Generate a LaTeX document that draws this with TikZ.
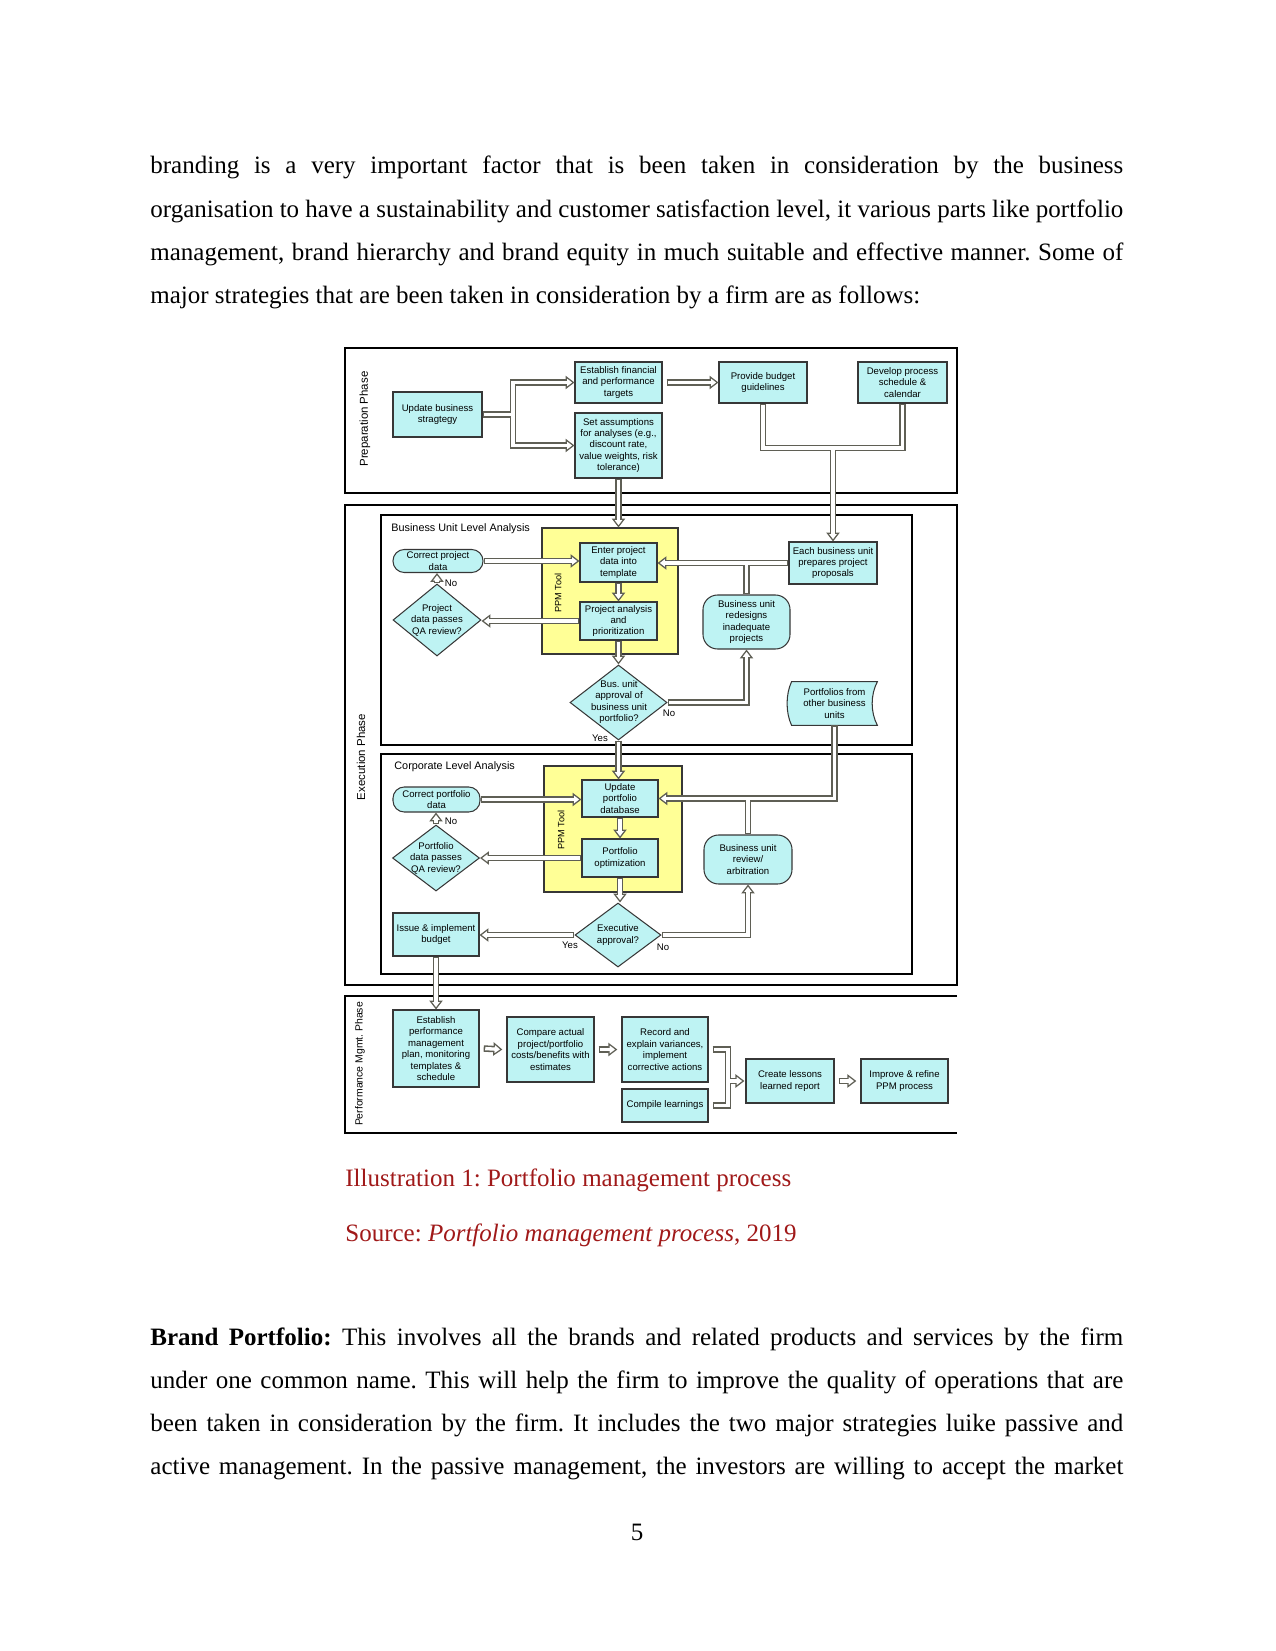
\documentclass[tikz,border=0pt]{standalone}
\usepackage{fontspec}
\setmainfont{Liberation Serif}
\newfontfamily\dfont{Liberation Sans}
\usetikzlibrary{arrows.meta,shapes.geometric,calc}
\pgfdeclarelayer{bg}\pgfdeclarelayer{pd}\pgfdeclarelayer{pw}
\pgfsetlayers{bg,main,pd,pw}
\frenchspacing
\definecolor{boxc}{RGB}{190,243,243}
\definecolor{yel}{RGB}{255,255,150}
\definecolor{pipec}{RGB}{95,95,85}
\definecolor{capc}{RGB}{160,25,25}
\definecolor{edge}{RGB}{55,55,55}
\tikzset{
 sz/.style 2 args={minimum width=#1*0.48pt, minimum height=#2*0.48pt},
 dfs/.style={font=\dfont\fontsize{4.6}{5.5}\selectfont},
 box/.style={dfs, draw=edge, line width=0.5pt, fill=boxc, inner sep=0.5pt, align=center},
 term/.style={box, rounded corners=5.4pt},
 oval/.style={box, rounded corners=7pt},
 dia/.style={diamond, draw=edge, line width=0.5pt, fill=boxc, inner sep=0pt},
 dtext/.style={dfs, align=center, inner sep=0pt},
 lab/.style={dfs, inner sep=0pt},
 phase/.style={font=\dfont\fontsize{5.5}{6.5}\selectfont, inner sep=0pt, rotate=90},
 ppm/.style={font=\dfont\fontsize{4.4}{5}\selectfont, inner sep=0pt, rotate=90},
 sec/.style={font=\dfont\fontsize{5.2}{6}\selectfont, inner sep=0pt, anchor=west},
 cont/.style={draw=black, line width=0.6pt},
 yelbox/.style={draw=edge, line width=0.5pt, fill=yel, inner sep=0pt},
 body/.style={font=\fontsize{12}{14}\selectfont, inner sep=0pt, anchor=base west},
 captxt/.style={font=\fontsize{12}{14}\selectfont, inner sep=0pt, anchor=base west, text=capc},
 pipedark/.style={draw=pipec, line width=3.1pt, line cap=butt, line join=miter,
   tipE/.style={-{Triangle[length=4.3pt,width=6.4pt,fill=white,line width=0.6pt]}},
   tipB/.style={{Triangle[length=4.3pt,width=6.4pt,fill=white,line width=0.6pt]}-{Triangle[length=4.3pt,width=6.4pt,fill=white,line width=0.6pt]}}},
 pipewhite/.style={draw=white, line width=1.6pt, line cap=butt, line join=miter,
   shorten <=0.75pt, shorten >=0.75pt,
   tipE/.style={shorten >=2.6pt},
   tipB/.style={shorten <=2.6pt, shorten >=2.6pt}}
}
\newcommand\pp[2][]{%
 \begin{pgfonlayer}{pd}\draw[pipedark,#1] #2;\end{pgfonlayer}%
 \begin{pgfonlayer}{pw}\draw[pipewhite,#1] #2;\end{pgfonlayer}}
\begin{document}
\begin{tikzpicture}[x=0.48pt,y=-0.48pt]
\useasboundingbox (0,0) rectangle (1275,1651);

% ---------- body text ----------
\node[body] (l1) at (150,174) {\makebox[467pt][s]{branding is a very important factor that is been taken in consideration by the business}};
\node[body] (l2) at (150,217.5) {\makebox[467pt][s]{organisation to have a sustainability and customer satisfaction level, it various parts like portfolio}};
\node[body] (l3) at (150,261) {\makebox[467pt][s]{management, brand hierarchy and brand equity in much suitable and effective manner. Some of}};
\node[body] (l4) at (150,304) {major strategies that are been taken in consideration by a firm are as follows:};

\node[captxt] (c1) at (345,1186) {Illustration 1: Portfolio management process};
\node[captxt] (c2) at (345,1241) {Source: \textit{Portfolio management process}, 2019};

\node[body] (m1) at (150,1345) {\makebox[467pt][s]{\textbf{Brand Portfolio:} This involves all the brands and related products and services by the firm}};
\node[body] (m2) at (150,1388) {\makebox[467pt][s]{under one common name. This will help the firm to improve the quality of operations that are}};
\node[body] (m3) at (150,1431.5) {\makebox[467pt][s]{been taken in consideration by the firm. It includes the two major strategies luike passive and}};
\node[body] (m4) at (150,1474.5) {\makebox[467pt][s]{active management. In the passive management, the investors are willing to accept the market}};

\node[font=\fontsize{12}{14}\selectfont, inner sep=0pt, anchor=base] (pg) at (637,1540) {5};

% ---------- containers ----------
\begin{pgfonlayer}{bg}
\draw[cont] (345,348) rectangle (957,493);
\draw[cont] (345,505) rectangle (957,985);
\draw[cont] (381,515) rectangle (912,745);
\draw[cont] (381,754) rectangle (912,974);
\draw[cont] (957,996) -- (345,996) -- (345,1133) -- (957,1133);
\node[yelbox, sz={136}{126}] (yel1) at (610,591) {};
\node[yelbox, sz={138}{126}] (yel2) at (613,829) {};
\end{pgfonlayer}

\node[phase] (ph1) at (365,419) {Preparation Phase};
\node[phase] (ph2) at (361,757) {Execution Phase};
\node[phase, font=\dfont\fontsize{5}{6}\selectfont] (ph3) at (360,1064) {Performance Mgmt. Phase};
\node[ppm] (pp1) at (558,593) {PPM Tool};
\node[ppm] (pp2) at (561,830) {PPM Tool};
\node[sec] (s1) at (391,529) {Business Unit Level Analysis};
\node[sec] (s2) at (394,767) {Corporate Level Analysis};

% ---------- preparation ----------
\node[box, sz={89}{45}] (upd) at (437.5,414.5) {Update business\\stragtegy};
\node[box, sz={87}{41}] (est) at (618.5,382.5) {Establish financial\\and performance\\targets};
\node[box, sz={87}{65}] (sa) at (618.5,445.5) {Set assumptions\\for analyses (e.g.,\\discount rate,\\value weights, risk\\tolerance)};
\node[box, sz={88}{41}] (prov) at (763,382.5) {Provide budget\\guidelines};
\node[box, sz={89}{41}] (dev) at (902.5,382.5) {Develop process\\schedule \&\\calendar};

% ---------- business unit level ----------
\node[term, sz={90}{23}] (corr1) at (438,561) {Correct project\\data};
\node[box, sz={77}{39}] (enter) at (618.5,562.5) {Enter project\\data into\\template};
\node[box, sz={77}{38}] (ana) at (618.5,621) {Project analysis\\and\\prioritization};
\node[dia, sz={88}{72}] (qa1) at (437,620) {};
\node[dtext] (qa1t) at (qa1) {Project\\data passes\\QA review?};
\node[box, sz={88}{42}] (each) at (833,563) {Each business unit\\prepares project\\proposals};
\node[oval, sz={87}{54}] (redes) at (746.5,622) {Business unit\\redesigns\\inadequate\\projects};
\node[dia, sz={97}{75}] (bu) at (618.5,702.5) {};
\node[dtext] (but) at (619,702) {Bus. unit\\approval of\\business unit\\portfolio?};
\node[dtext, sz={85}{43}] (port) at (834.5,703.5) {Portfolios from\\other business\\units};
\begin{pgfonlayer}{bg}
\draw[draw=edge, fill=boxc, line width=0.5pt] (port.north west) -- (port.north east)
  .. controls ($(port.north east)+(-7,13)$) and ($(port.south east)+(-7,-13)$) .. (port.south east)
  -- (port.south west)
  .. controls ($(port.south west)+(-6,-13)$) and ($(port.north west)+(-6,13)$) .. cycle;
\end{pgfonlayer}

% ---------- corporate level ----------
\node[term, sz={87}{25}] (corr2) at (436.5,799.5) {Correct portfolio\\data};
\node[box, sz={76}{37}] (upd2) at (620,798.5) {Update\\portfolio\\database};
\node[box, sz={76}{38}] (opt) at (620,858) {Portfolio\\optimization};
\node[dia, sz={87}{66}] (qa2) at (436,858) {};
\node[dtext] (qa2t) at (qa2) {Portfolio\\data passes\\QA review?};
\node[dia, sz={86}{64}] (exe) at (618,935) {};
\node[dtext] (exet) at (exe) {Executive\\approval?};
\node[box, sz={86}{43}] (iss) at (436,934.5) {Issue \& implement\\budget};
\node[oval, sz={88}{49}] (rev) at (748,859.5) {Business unit\\review/\\arbitration};

% ---------- performance ----------
\node[box, sz={86}{77}] (estp) at (436,1048.5) {Establish\\performance\\management\\plan, monitoring\\templates \&\\schedule};
\node[box, sz={87}{65}] (cmp) at (550.5,1049.5) {Compare actual\\project/portfolio\\costs/benefits with\\estimates};
\node[box, sz={86}{65}] (rec) at (665,1049.5) {Record and\\explain variances,\\implement\\corrective actions};
\node[box, sz={86}{33}] (cmpl) at (665,1105.5) {Compile learnings};
\node[box, sz={88}{44}] (les) at (790,1081) {Create lessons\\learned report};
\node[box, sz={87}{44}] (imp) at (904.5,1081) {Improve \& refine\\PPM process};

% ---------- yes / no ----------
\node[lab] (n1) at (451,583) {No};
\node[lab] (n2) at (669,713) {No};
\node[lab] (y1) at (600,738) {Yes};
\node[lab] (n3) at (451,821) {No};
\node[lab] (y2) at (570,945) {Yes};
\node[lab] (n4) at (663,947) {No};

% ---------- connectors ----------
\coordinate (b1) at (513,414.5);
\pp{(upd.east) -- (b1)}
\pp[tipB]{(est.west) -- (est.west -| b1) -- (sa.west -| b1) -- (sa.west)}
\pp[tipE]{([xshift=2pt]est.east) -- (prov.west)}
\coordinate (j2) at (833,448);
\pp{(prov.south) -- (prov.south |- j2) -- (dev.south |- j2) -- (dev.south)}
\pp[tipE]{(j2) -- (each.north)}
\pp[tipE]{(sa.south) -- (sa.south |- yel1.north)}

\pp[tipE]{(corr1.east) -- (corr1.east -| enter.west)}
\pp[tipE]{(each.west) -- (each.west -| enter.east)}
\pp{(redes.north) -- (redes.north |- each.west)}
\pp[tipE]{(enter.south) -- (ana.north)}
\pp[tipE]{(ana.west) -- (ana.west -| qa1.east)}
\pp[tipE]{(qa1.north) -- (qa1.north |- corr1.south)}
\pp[tipE]{(ana.south) -- (ana.south |- bu.north)}
\pp[tipE]{(bu.east) -| (redes.south)}
\pp[tipE]{(bu.south) -- (bu.south |- upd2.north)}

\pp[tipE]{(corr2.east) -- (corr2.east -| upd2.west)}
\pp[tipE]{(port.south) |- (upd2.east)}
\pp{(rev.north) -- (rev.north |- upd2.east)}
\pp[tipE]{(upd2.south) -- (opt.north)}
\pp[tipE]{(opt.west) -- (opt.west -| qa2.east)}
\pp[tipE]{(qa2.north) -- (qa2.north |- corr2.south)}
\pp[tipE]{(opt.south) -- (opt.south |- exe.north)}
\pp[tipE]{(exe.west) -- (exe.west -| iss.east)}
\pp[tipE]{(exe.east) -| (rev.south)}
\pp[tipE]{(iss.south) -- (iss.south |- estp.north)}

\pp[tipE]{([xshift=2pt]estp.east) -- ([xshift=-2pt]cmp.west)}
\pp[tipE]{([xshift=2pt]cmp.east) -- ([xshift=-2pt]rec.west)}
\coordinate (b2) at (728,1080);
\pp{([xshift=2pt]rec.east) -- (rec.east -| b2) -- (cmpl.east -| b2) -- ([xshift=2pt]cmpl.east)}
\pp[tipE]{(b2 |- les.west) -- ([xshift=-0.5pt]les.west)}
\pp[tipE]{([xshift=2pt]les.east) -- ([xshift=-2pt]imp.west)}
\end{tikzpicture}
\end{document}
